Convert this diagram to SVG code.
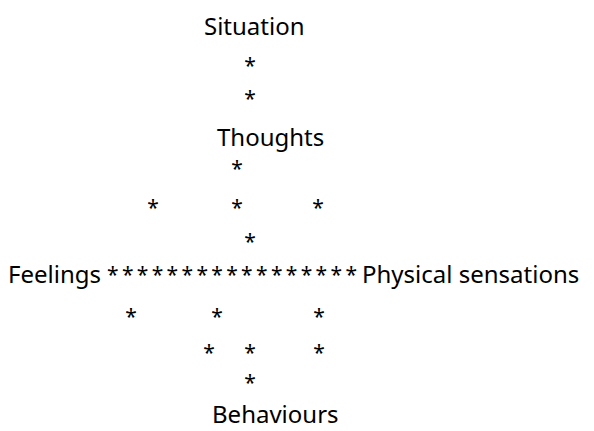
<svg xmlns="http://www.w3.org/2000/svg" width="594" height="431" viewBox="0 0 594 431">
<style>
text{font-family:"Noto Sans","Open Sans",sans-serif;font-size:24px;fill:#000}
#connectors text{font-size:21px}
</style>
<rect width="594" height="431" fill="#fff"/>
<g id="node-situation"><text x="204" y="35">Situation</text></g>
<g id="node-thoughts"><text x="217" y="146">Thoughts</text></g>
<g id="node-feelings"><text x="8" y="283">Feelings</text></g>
<g id="node-physical"><text x="362" y="283">Physical sensations</text></g>
<g id="node-behaviours"><text x="212" y="423">Behaviours</text></g>
<g id="connectors" text-anchor="middle">
<text x="250" y="73">*</text>
<text x="250" y="106">*</text>
<text x="237" y="176">*</text>
<text x="153" y="215">*</text>
<text x="237" y="215">*</text>
<text x="318" y="215">*</text>
<text x="250" y="249">*</text>
<text x="232" y="282" textLength="250" lengthAdjust="spacing">*****************</text>
<text x="131" y="324">*</text>
<text x="217" y="324">*</text>
<text x="319" y="324">*</text>
<text x="209" y="360">*</text>
<text x="250" y="360">*</text>
<text x="319" y="360">*</text>
<text x="250" y="390">*</text>
</g>
</svg>
